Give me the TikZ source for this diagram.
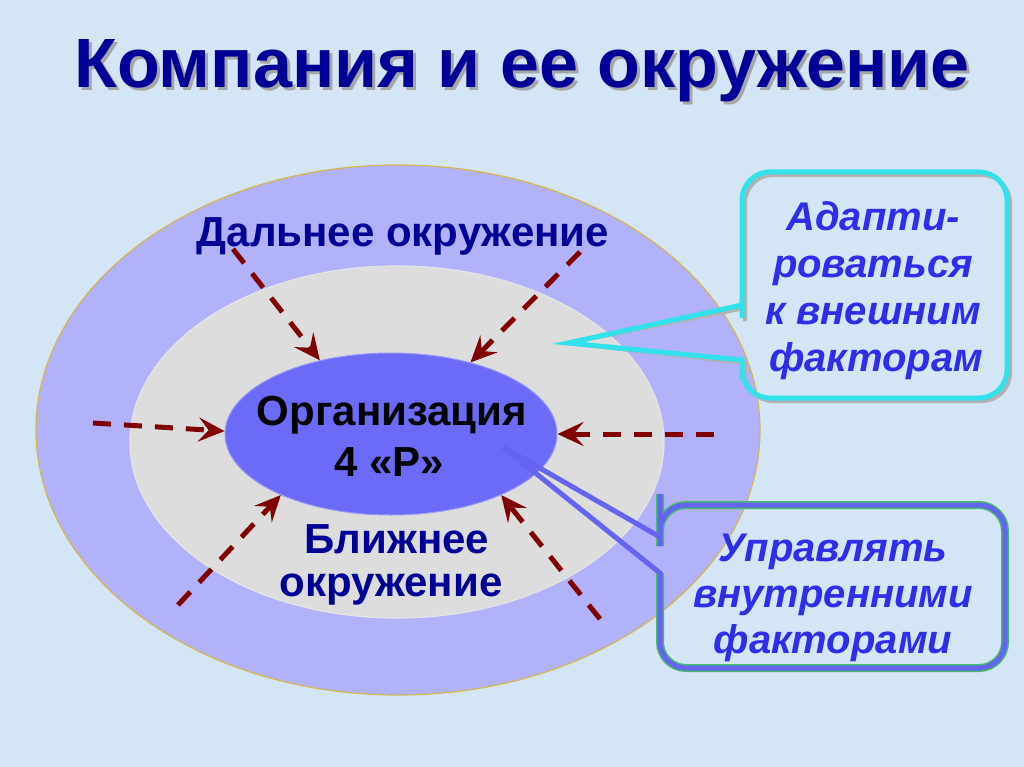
\documentclass[tikz,border=0pt]{standalone}
\usepackage{fontspec}
\setmainfont{Liberation Sans}
\usetikzlibrary{arrows.meta,shapes.geometric}
\definecolor{bg}{RGB}{212,229,245}
\definecolor{outerfill}{RGB}{178,178,250}
\definecolor{outerline}{RGB}{214,180,80}
\definecolor{midfill}{RGB}{221,221,221}
\definecolor{innerfill}{RGB}{107,107,247}
\definecolor{navy}{RGB}{0,0,150}
\definecolor{calltext}{RGB}{45,45,235}
\definecolor{arrowred}{RGB}{128,0,0}
\definecolor{cyanline}{RGB}{50,225,235}
\definecolor{blueline}{RGB}{100,100,240}
\definecolor{greenline}{RGB}{70,185,110}
\newcommand{\titletext}{\resizebox{895pt}{48pt}{\bfseries Компания и ее окружение}}
\tikzset{
  ringlabel/.style={anchor=base, text=navy, font=\fontsize{42}{48}\selectfont\bfseries, inner sep=0},
  orglabel/.style={anchor=base, text=black, font=\fontsize{42}{48}\selectfont\bfseries, inner sep=0},
  calllabel/.style={anchor=base, text=calltext, font=\fontsize{40}{46}\selectfont\bfseries\itshape, inner sep=0},
  inarrow/.style={draw=arrowred, line width=5pt, dash pattern=on 18pt off 13pt,
    -{Stealth[length=26pt,width=24pt,inset=10pt]}},
}
\begin{document}
\begin{tikzpicture}[x=1pt,y=-1pt]
\useasboundingbox (0,0) rectangle (1024,767);
\fill[bg] (0,0) rectangle (1024,767);

% title with shadow
\node[anchor=base, text=navy, inner sep=0] (title) at (522,88)
  {\rlap{\kern3pt\raisebox{-3pt}{\color{black!35}\titletext}}\titletext};

% rings
\node[ellipse, draw=outerline, line width=1.2pt, fill=outerfill,
  minimum width=724, minimum height=530, inner sep=0] (outer) at (398,430) {};
\node[ellipse, draw=white!80!gray, line width=1.2pt, fill=midfill,
  minimum width=534, minimum height=352, inner sep=0] (middle) at (397,442) {};
\node[ellipse, draw=innerfill!70!white, line width=1pt, fill=innerfill,
  minimum width=332, minimum height=162, inner sep=0] (org) at (391,434) {};

% labels
\node[ringlabel] (far) at (403,246) {Дальнее окружение};
\node[orglabel] (org1) at (392,425) {Организация};
\node[orglabel] (org2) at (389,476) {4 «Р»};
\node[ringlabel] (near1) at (397,553) {Ближнее};
\node[ringlabel] (near2) at (391,596) {окружение};

% arrows
\coordinate (s1) at (233,249);
\coordinate (s2) at (580,252);
\coordinate (s3) at (93,423);
\coordinate (s4) at (714,434);
\coordinate (s5) at (178,605);
\coordinate (s6) at (600,619);
\draw[inarrow] (s1) -- (org.134.6);
\draw[inarrow] (s2) -- (org.42.5);
\draw[inarrow] (s3) -- (org.179);
\draw[inarrow] (s4) -- (org.0);
\draw[inarrow] (s5) -- (org.209.6);
\draw[inarrow] (s6) -- (org.-29);

% callout 1
\coordinate (tip1) at (568,343);
\draw[black!30, line width=4pt, shift={(3,3)}]
  (tip1) -- (742,360) -- (742,380) [rounded corners=28] -- (742,398) -- (1007,398)
  -- (1007,172) -- (742,172) -- (742,290) [sharp corners] -- (742,305) -- cycle;
\draw[cyanline, line width=5pt, line join=miter]
  (tip1) -- (742,360) -- (742,380) [rounded corners=28] -- (742,398) -- (1007,398)
  -- (1007,172) -- (742,172) -- (742,290) [sharp corners] -- (742,305) -- cycle;
\node[calllabel] (c1a) at (873,230) {Адапти-};
\node[calllabel] (c1b) at (873,277) {роваться};
\node[calllabel] (c1c) at (873,324) {к внешним};
\node[calllabel] (c1d) at (876,371) {факторам};

% callout 2
\coordinate (tip2) at (503,447);
\draw[greenline, line width=8pt]
  (660,573) -- (660,600) [rounded corners=26] -- (660,668) -- (1005,668)
  -- (1005,505) -- (660,505) -- (660,520) [sharp corners] -- (660,537);
\draw[blueline, line width=5pt, line join=miter]
  (tip2) -- (660,573) -- (660,600) [rounded corners=26] -- (660,668) -- (1005,668)
  -- (1005,505) -- (660,505) -- (660,520) [sharp corners] -- (660,537) -- cycle;
\node[calllabel] (c2a) at (833,561) {Управлять};
\node[calllabel] (c2b) at (833,607) {внутренними};
\node[calllabel] (c2c) at (833,653) {факторами};
\end{tikzpicture}
\end{document}
